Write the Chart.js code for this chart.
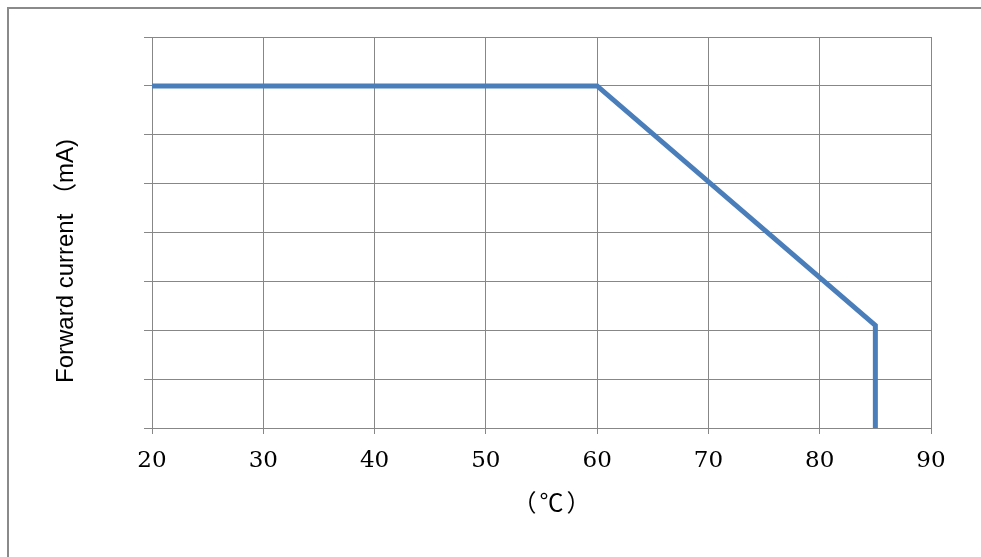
<!DOCTYPE html>
<html>
<head>
<meta charset="utf-8">
<script src="https://cdn.jsdelivr.net/npm/chart.js@4/dist/chart.umd.min.js"></script>
<style>
    html, body { margin: 0; padding: 0; background: #fff; }
    #wrap { position: relative; width: 981px; height: 557px; overflow: hidden; }
    #frame {
        position: absolute; left: 7px; top: 7px; width: 1000px; height: 600px;
        border-top: 2px solid #8a8a8a; border-left: 2px solid #8a8a8a;
    }
    #chart { position: absolute; left: 0; top: 0; }
</style>
</head>
<body>
<div id="wrap">
    <div id="frame"></div>
    <canvas id="chart" width="981" height="557"></canvas>
</div>
<script>
// derating curve: ambient temperature (°C) vs forward current (mA)
const temperature = [20, 60, 85, 85];
const forwardCurrent = [35, 35, 10.5, 0];
const xTicks = [20, 30, 40, 50, 60, 70, 80, 90];
const yTicks = [0, 5, 10, 15, 20, 25, 30, 35, 40];

const LINE_COLOR = '#4A7EBB';
const GRID_COLOR = '#878787';

const titlesPlugin = {
    id: 'axisTitles',
    afterDraw(chart) {
        const { ctx } = chart;
        ctx.save();
        ctx.fillStyle = '#000';
        ctx.textAlign = 'center';
        ctx.textBaseline = 'middle';

        ctx.font = '24px "Noto Sans CJK SC", sans-serif';
        ctx.letterSpacing = '3px';
        ctx.fillText('（℃）', 553, 502);
        ctx.letterSpacing = '0px';

        ctx.translate(66, 261);
        ctx.rotate(-Math.PI / 2);
        ctx.font = '24px "Liberation Sans", "Noto Sans CJK SC", sans-serif';
        ctx.fillText('Forward current （mA)', 0, 0);
        ctx.restore();
    },
};

new Chart(document.getElementById('chart').getContext('2d'), {
    type: 'scatter',
    data: {
        datasets: [{
            data: temperature.map((t, i) => ({ x: t, y: forwardCurrent[i] })),
            showLine: true,
            borderColor: LINE_COLOR,
            borderWidth: 5,
            pointRadius: 0,
            tension: 0,
        }],
    },
    options: {
        responsive: false,
        animation: false,
        devicePixelRatio: 1,
        layout: { padding: { left: 144, top: 37, right: 50, bottom: 0 } },
        plugins: { legend: { display: false }, tooltip: { enabled: false } },
        scales: {
            x: {
                type: 'linear',
                min: xTicks[0],
                max: xTicks[xTicks.length - 1],
                afterBuildTicks: (scale) => { scale.ticks = xTicks.map((v) => ({ value: v })); },
                afterFit: (scale) => { scale.height = 129; },
                grid: { color: GRID_COLOR, tickLength: 6, tickColor: GRID_COLOR },
                border: { color: GRID_COLOR },
                ticks: {
                    font: { family: '"DejaVu Serif", "Liberation Serif", serif', size: 23, weight: '500' },
                    color: '#000',
                    padding: 13,
                },
            },
            y: {
                type: 'linear',
                min: yTicks[0],
                max: yTicks[yTicks.length - 1],
                afterBuildTicks: (scale) => { scale.ticks = yTicks.map((v) => ({ value: v })); },
                grid: { color: GRID_COLOR, tickLength: 8, tickColor: GRID_COLOR },
                border: { color: GRID_COLOR },
                ticks: { display: false },
            },
        },
    },
    plugins: [titlesPlugin],
});
</script>
</body>
</html>
